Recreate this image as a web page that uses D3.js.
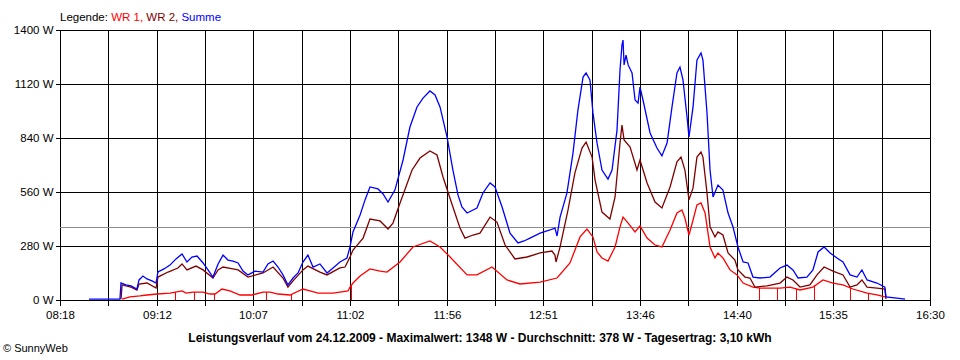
<!DOCTYPE html>
<html><head><meta charset="utf-8">
<script src="https://cdn.jsdelivr.net/npm/d3@7"></script>
<style>
body{margin:0;background:#fff;}
svg{display:block;font-family:"Liberation Sans",Arial,sans-serif;}
</style></head>
<body><svg id="c" width="960" height="360"></svg>
<script>
// ---- data (times in minutes since midnight, values in W) ----
const xTickLabels = ["08:18","09:12","10:07","11:02","11:56","12:51","13:46","14:40","15:35","16:30"];
const yTickValues = [0,280,560,840,1120,1400];
const averageW = 378;
const titleText = "Leistungsverlauf vom 24.12.2009 - Maximalwert: 1348 W - Durchschnitt: 378 W - Tagesertrag: 3,10 kWh";
const seriesNames = ["WR 1","WR 2","Summe"];

const sumTimes = [514.4,531.9,532.5,535.3,538.2,541.5,542.7,544.9,547.2,550.0,552.3,553.4,556.8,560.2,563.6,567.0,569.8,572.6,575.5,578.9,581.7,584.5,587.4,590.2,593.0,595.8,598.7,601.5,604.3,608.3,612.8,615.6,618.5,621.3,624.1,626.9,629.8,632.6,635.4,638.2,641.1,645.0,649.0,652.4,656.3,660.3,662.0,663.7,667.7,670.5,673.3,677.8,680.7,683.5,687.4,692.0,695.9,699.9,703.3,707.2,710.1,712.9,716.9,720.2,723.1,725.3,728.2,733.8,737.2,741.2,744.0,748.0,752.5,757.0,760.4,763.8,769.5,775.1,777.9,779.1,780.8,784.7,788.1,790.9,793.8,795.5,797.7,799.4,801.7,804.5,807.9,810.2,813.0,814.7,815.8,816.4,817.0,818.1,819.3,821.5,823.2,824.9,826.0,827.7,831.7,835.6,838.4,841.3,844.1,846.9,848.6,850.3,852.6,853.7,856.0,858.2,860.5,861.6,863.9,865.6,867.3,870.1,872.9,875.8,878.6,881.4,884.3,887.1,889.9,893.9,899.5,905.2,909.1,912.5,915.4,920.4,923.8,926.7,930.1,933.5,937.4,940.8,944.8,948.7,951.5,954.4,960.0,964.5,965.1,971.3,975.9];
const sumValues = [5,5,88,78,73,57,104,124,109,99,88,145,161,181,213,239,197,223,228,192,156,119,187,233,207,202,192,150,130,150,145,187,202,171,130,78,114,140,197,233,171,187,140,166,197,218,275,353,441,519,586,576,550,508,570,726,897,1001,1047,1084,1063,1001,845,674,544,482,451,477,555,607,586,482,347,296,306,321,347,363,373,332,430,555,762,985,1156,1177,1141,970,814,674,627,674,881,1193,1322,1348,1219,1270,1219,1177,1037,1021,1104,1037,866,788,747,814,1001,1177,1208,1141,949,845,1001,1244,1281,1244,970,674,534,596,570,451,379,275,197,192,119,114,119,166,181,156,114,119,156,249,275,244,218,197,130,119,156,104,88,67,16,10,5];

const wr2Times = [532.5,533.1,538.2,541.5,542.7,547.2,552.3,553.4,559.1,564.7,567.0,569.8,574.9,578.9,584.5,587.4,590.2,595.8,598.7,604.3,612.8,618.5,624.1,626.9,629.8,635.4,638.2,645.0,649.0,656.3,659.2,662.0,663.7,669.4,673.3,679.0,683.5,686.3,690.3,697.1,701.6,707.2,711.2,714.6,720.2,724.2,727.0,731.6,735.5,741.2,745.1,749.7,755.3,762.1,769.5,776.2,777.9,778.5,780.8,785.3,789.2,793.2,795.5,798.9,800.6,804.5,809.0,811.9,814.7,815.8,817.0,820.4,824.3,826.0,830.0,834.5,838.4,843.0,846.9,849.2,851.4,853.7,856.0,858.2,860.5,861.6,863.9,865.6,868.4,870.1,872.9,875.8,879.7,881.4,885.4,888.2,891.0,897.8,905.2,909.1,912.5,916.5,922.1,926.1,930.1,935.1,940.8,944.8,948.7,951.5,954.4,960.0,964.5,965.1];
const wr2Values = [5,78,67,52,83,88,62,119,145,166,187,156,176,156,114,156,171,161,156,119,140,171,114,67,99,156,176,145,130,166,171,223,259,321,420,410,368,399,503,674,736,773,752,638,482,373,321,337,347,430,404,285,213,223,244,254,233,197,275,467,659,788,819,741,622,456,420,534,814,907,830,793,674,726,607,508,477,586,716,741,674,519,581,741,767,741,555,379,327,353,337,244,207,156,119,114,67,73,88,119,104,67,78,130,171,150,130,67,78,104,67,62,57,5];

const wr1Times = [533.1,537.6,543.2,547.2,552.9,560.2,567.0,569.3,573.2,578.9,582.8,585.7,589.6,594.1,599.8,606.6,612.8,616.8,621.3,628.1,635.4,639.4,643.9,652.4,660.9,662.0,663.7,667.7,673.3,679.0,682.9,690.3,697.6,707.2,712.9,718.6,728.2,733.8,742.3,750.8,758.1,769.5,779.1,786.4,792.1,796.0,799.4,801.7,804.5,807.9,811.9,814.7,816.4,819.3,823.2,826.0,830.0,834.5,838.4,843.0,846.9,849.7,851.4,853.7,856.0,858.2,860.5,862.8,865.6,868.4,870.1,872.9,876.9,880.9,884.3,889.9,893.9,905.2,910.8,916.5,923.8,929.5,935.1,940.8,946.4,954.4,960.0,964.5];
const wr1Values = [5,16,21,26,31,36,47,36,41,41,31,31,57,47,26,26,41,41,31,26,57,47,36,36,47,67,88,124,161,150,145,197,275,306,275,223,130,130,171,104,83,93,114,192,327,368,327,249,218,202,275,379,430,399,353,384,321,285,275,363,451,467,425,337,415,493,503,451,275,218,244,218,156,130,88,67,62,62,67,52,67,104,88,78,57,36,26,16];
// short drop-outs of WR 1 to zero (minutes since midnight)
const wr1DropTimes = [563.0,574.0,585.0,614.5,628.5,662.3,893.3,903.5,914.2,924.4,944.8,954.9];

// ---- layout ----
const svg = d3.select("#c");
const L = 60, R = 930, T = 30, B = 300;
const colors = {wr1:"#ff0000", wr2:"#800000", sum:"#0000ff"};
const t0 = 498, t1 = 990;
const x = d3.scaleLinear().domain([t0,t1]).range([L,R]);
const y = d3.scaleLinear().domain([0,1400]).range([B,T]);
const gridTimes = d3.range(19).map(i => t0 + i*(t1-t0)/18);
const px = v => Math.round(v)+0.5;

// grid
const g = svg.append("g").attr("shape-rendering","crispEdges");
g.selectAll("line.v").data(gridTimes).join("line")
  .attr("x1",d=>px(x(d))).attr("x2",d=>px(x(d)))
  .attr("y1",T).attr("y2",B).attr("stroke","#000").attr("stroke-width",1);
g.selectAll("line.h").data(yTickValues).join("line")
  .attr("x1",L).attr("x2",R+1)
  .attr("y1",d=>px(y(d))).attr("y2",d=>px(y(d)))
  .attr("stroke","#000").attr("stroke-width",1);
// average line
g.append("line").attr("x1",L).attr("x2",R)
  .attr("y1",px(y(averageW))).attr("y2",px(y(averageW)))
  .attr("stroke","#8c8c8c").attr("stroke-width",1);

// axes
const xAxis = d3.axisBottom(x).tickValues(gridTimes)
  .tickFormat((d,i)=> i%2===0 ? xTickLabels[i/2] : "").tickSize(5).tickSizeOuter(0);
const xa = svg.append("g").attr("transform",`translate(0,${B+0.5})`).attr("shape-rendering","crispEdges").call(xAxis);
xa.select(".domain").remove();
xa.selectAll(".tick").attr("transform",d=>`translate(${px(x(d))},0)`);
xa.selectAll("line").attr("stroke","#000").attr("stroke-width",1);
xa.selectAll("text").attr("y",10).attr("font-size","11.5px").attr("font-family","Liberation Sans, Arial, sans-serif").attr("fill","#000");

const yAxis = d3.axisLeft(y).tickValues(yTickValues).tickFormat(d=>d+" W").tickSize(5).tickSizeOuter(0);
const ya = svg.append("g").attr("transform",`translate(${L+0.5},0)`).attr("shape-rendering","crispEdges").call(yAxis);
ya.select(".domain").remove();
ya.selectAll(".tick").attr("transform",d=>`translate(0,${px(y(d))})`);
ya.selectAll("line").attr("stroke","#000").attr("stroke-width",1);
ya.selectAll("text").attr("x",-7).attr("font-size","11.5px").attr("font-family","Liberation Sans, Arial, sans-serif").attr("fill","#000");

// series
const line = d3.line().x(d=>x(d[0])).y(d=>y(d[1]));
function draw(times, values, color){
  svg.append("path").datum(times.map((t,i)=>[t,values[i]]))
    .attr("d",line).attr("fill","none").attr("stroke",color)
    .attr("stroke-width",1.3).attr("stroke-linejoin","miter");
}
draw(wr1Times, wr1Values, colors.wr1);
// drops of WR1
const wr1Interp = t => {
  const i = d3.bisectLeft(wr1Times, t);
  if (i<=0) return wr1Values[0];
  if (i>=wr1Times.length) return wr1Values[wr1Values.length-1];
  const a = wr1Times[i-1], b = wr1Times[i];
  return wr1Values[i-1] + (wr1Values[i]-wr1Values[i-1])*(t-a)/(b-a);
};
svg.selectAll("line.drop").data(wr1DropTimes).join("line")
  .attr("x1",d=>px(x(d))).attr("x2",d=>px(x(d)))
  .attr("y1",d=>y(wr1Interp(d))).attr("y2",y(0))
  .attr("stroke",colors.wr1).attr("stroke-width",1).attr("shape-rendering","crispEdges");
draw(wr2Times, wr2Values, colors.wr2);
draw(sumTimes, sumValues, colors.sum);

// legend
const leg = svg.append("text").attr("x",L).attr("y",21).attr("font-size","11.5px");
leg.append("tspan").attr("fill","#000").text("Legende: ");
leg.append("tspan").attr("fill",colors.wr1).text(seriesNames[0]+", ");
leg.append("tspan").attr("fill",colors.wr2).text(seriesNames[1]+", ");
leg.append("tspan").attr("fill",colors.sum).text(seriesNames[2]);

// title
svg.append("text").attr("x",480).attr("y",342).attr("text-anchor","middle")
  .attr("font-size","12px").attr("font-weight","bold").attr("fill","#000").text(titleText);
svg.append("text").attr("x",3).attr("y",352).attr("font-size","11px").attr("fill","#000").text("© SunnyWeb");
</script>
</body></html>
